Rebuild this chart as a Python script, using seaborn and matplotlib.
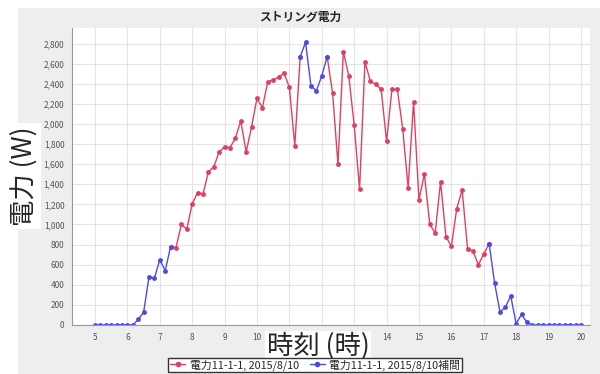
import pandas as pd
import seaborn as sns
import numpy as np
import matplotlib.pyplot as plt

# 10分間隔の時刻 (5:00 - 20:00)
hours = np.arange(5 * 6, 20 * 6 + 1) / 6.0

# ストリング電力 (W)
power = [0, 0, 0, 0, 0, 0, 0, 0, 55, 125,
         478, 465, 650, 540, 779, 770, 1000, 952, 1205, 1318,
         1303, 1522, 1575, 1721, 1774, 1764, 1860, 2030, 1721, 1973,
         2256, 2162, 2421, 2438, 2465, 2508, 2365, 1782, 2667, 2813,
         2378, 2331, 2478, 2670, 2311, 1599, 2720, 2481, 1990, 1350,
         2620, 2425, 2397, 2345, 1828, 2345, 2345, 1947, 1366, 2222,
         1244, 1502, 1005, 912, 1426, 879, 783, 1158, 1343, 761,
         735, 600, 705, 810, 421, 132, 176, 289, 12, 107,
         25, 0, 0, 0, 0, 0, 0, 0, 0, 0, 0]

# 区間 (開始index, 終了index)
measured_ranges = [(14, 38), (43, 73)]
interp_ranges = [(0, 14), (38, 43), (73, 90)]

label_meas = "電力11-1-1, 2015/8/10"
label_interp = "電力11-1-1, 2015/8/10補間"

rows = []
for name, ranges in [(label_meas, measured_ranges), (label_interp, interp_ranges)]:
    for k, (a, b) in enumerate(ranges):
        for i in range(a, b + 1):
            rows.append({"time": hours[i], "power": power[i], "series": name, "seg": f"{name}-{k}"})
df = pd.DataFrame(rows)

sns.set_style("white")
plt.rcParams['font.family'] = ['Noto Sans CJK JP', 'DejaVu Sans']

fig = plt.figure(figsize=(6, 3.74), dpi=100)
fig.patch.set_facecolor("white")
# 背景パネル
bg = fig.add_axes([18 / 600, 0, 1, (374 - 8) / 374], zorder=-5)
bg.set_facecolor("#EEEEEE")
bg.set_xticks([])
bg.set_yticks([])
for s in bg.spines.values():
    s.set_visible(False)

ax = fig.add_axes([72 / 600, (374 - 325) / 374, (590 - 72) / 600, (325 - 28) / 374], zorder=1)
ax.set_facecolor("white")

palette = {label_meas: "#E0405F", label_interp: "#4B4BE8"}
sns.lineplot(data=df, x="time", y="power", hue="series", units="seg", estimator=None,
             palette=palette, marker="o", markersize=3.5, markeredgewidth=0,
             linewidth=1, ax=ax, legend=False, sort=False)

ax.set_xlim(4.29, 20.28)
ax.set_ylim(0, 2955)
ax.set_xticks(range(5, 21))
ax.set_yticks(range(0, 2801, 200))
ax.set_yticklabels([f"{v:,}" for v in range(0, 2801, 200)])
ax.tick_params(labelsize=6, colors="#555555", length=2, width=0.5)
ax.grid(True, color="#E4E4E4", linewidth=0.8)
ax.set_xlabel("")
ax.set_ylabel("")
for s in ["top", "right"]:
    ax.spines[s].set_visible(False)
for s in ["left", "bottom"]:
    ax.spines[s].set_color("#999999")
    ax.spines[s].set_linewidth(0.8)

fig.text(0.5, (374 - 17) / 374, "ストリング電力", ha="center", va="center",
         fontsize=8.5, fontweight="bold", zorder=3)
fig.text(318 / 600, (374 - 346) / 374, "時刻 (時)", ha="center", va="center", fontsize=19,
         bbox=dict(facecolor="white", edgecolor="none", pad=1), zorder=3)
fig.text(24 / 600, (374 - 176) / 374, "電力 (W)", ha="center", va="center", fontsize=19,
         rotation=90, bbox=dict(facecolor="white", edgecolor="none", pad=2), zorder=3)

handles = [plt.Line2D([], [], color=palette[label_meas], marker="o", markersize=3, linewidth=1),
           plt.Line2D([], [], color=palette[label_interp], marker="o", markersize=3, linewidth=1)]
leg = fig.legend(handles, [label_meas, label_interp], loc="center", ncol=2,
                 bbox_to_anchor=(315 / 600, (374 - 365) / 374), fontsize=7.8, frameon=True,
                 fancybox=False, edgecolor="#333333", framealpha=1, handlelength=1.4,
                 handletextpad=0.4, columnspacing=1.0, borderpad=0.15)
leg.set_zorder(4)

fig.savefig("out.png", dpi=100)
